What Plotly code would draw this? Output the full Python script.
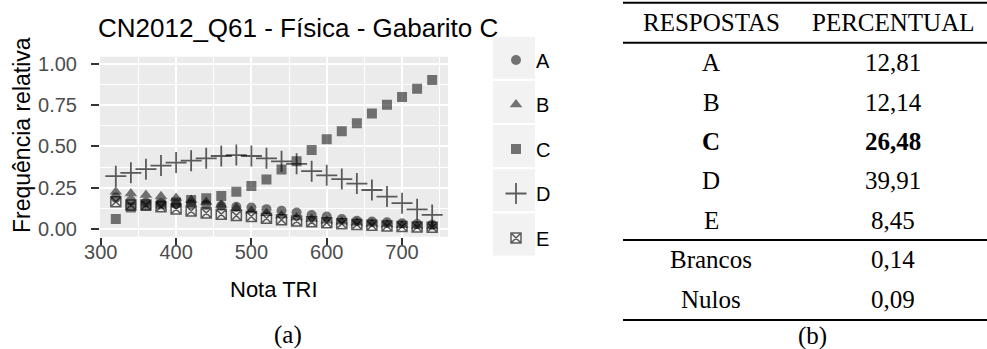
import plotly.graph_objects as go

# ---------------- data ----------------
nota = [320, 340, 360, 380, 400, 420, 440, 460, 480, 500, 520,
        540, 560, 580, 600, 620, 640, 660, 680, 700, 720, 740]
freq_A = [0.19, 0.17, 0.16, 0.155, 0.15, 0.15, 0.145, 0.14, 0.135, 0.13, 0.12,
          0.11, 0.10, 0.085, 0.075, 0.06, 0.05, 0.045, 0.04, 0.035, 0.03, 0.025]
freq_B = [0.225, 0.215, 0.206, 0.198, 0.188, 0.175, 0.164, 0.145, 0.128, 0.11, 0.095,
          0.082, 0.07, 0.06, 0.05, 0.043, 0.037, 0.032, 0.027, 0.022, 0.018, 0.015]
freq_C = [0.06, 0.13, 0.14, 0.15, 0.16, 0.175, 0.186, 0.20, 0.226, 0.26, 0.30,
          0.36, 0.41, 0.478, 0.543, 0.592, 0.64, 0.70, 0.753, 0.80, 0.85, 0.903]
freq_D = [0.32, 0.34, 0.362, 0.384, 0.402, 0.414, 0.428, 0.442, 0.448, 0.442, 0.428,
          0.41, 0.395, 0.35, 0.325, 0.302, 0.275, 0.236, 0.196, 0.156, 0.119, 0.085]
freq_E = [0.165, 0.145, 0.145, 0.135, 0.121, 0.109, 0.097, 0.089, 0.081, 0.075, 0.065,
          0.056, 0.048, 0.043, 0.037, 0.032, 0.027, 0.022, 0.018, 0.015, 0.012, 0.01]

x_ticks = [300, 400, 500, 600, 700]
y_ticks = [0.00, 0.25, 0.50, 0.75, 1.00]

respostas = ["A", "B", "C", "D", "E", "Brancos", "Nulos"]
percentual = ["12,81", "12,14", "26,48", "39,91", "8,45", "0,14", "0,09"]
gabarito = "C"

title_text = "CN2012_Q61 - Física - Gabarito C"

# ---------------- layout helpers (pixel -> paper, margins are zero) ----------------
W, H = 987, 349
PANEL_L, PANEL_R, PANEL_T, PANEL_B = 100, 448, 56.7, 236.7


def px(xp):
    return xp / W


def py(yp):
    return 1 - yp / H


SANS = "Liberation Sans, Arial, sans-serif"
SERIF = "Liberation Serif, Times New Roman, serif"
MCOL = "rgba(0,0,0,0.53)"
LCOL = "rgba(0,0,0,0.62)"

fig = go.Figure()

series = [
    ("A", freq_A, dict(symbol="circle", size=10, color=MCOL, line=dict(width=0))),
    ("B", freq_B, dict(symbol="triangle-up", size=11, color=MCOL, line=dict(width=0))),
    ("C", freq_C, dict(symbol="square", size=10, color=MCOL, line=dict(width=0))),
    ("D", freq_D, dict(symbol="cross-thin-open", size=15, color=LCOL,
                       line=dict(width=1.8, color=LCOL))),
    ("E", freq_E, dict(symbol="square-x-open", size=10, color=LCOL,
                       line=dict(width=1.5, color=LCOL))),
]
for name, vals, mk in series:
    fig.add_trace(go.Scatter(x=nota, y=vals, mode="markers", name=name,
                             legendgroup=name, marker=mk))

# ---------------- legend key backgrounds ----------------
key_top, key_step, key_size = 36.7, 44.2, 42
shapes = []
for i in range(len(series)):
    y0 = key_top + i * key_step
    shapes.append(dict(type="rect", xref="paper", yref="paper",
                       x0=px(493), x1=px(535), y0=py(y0), y1=py(y0 + key_size),
                       fillcolor="#F2F2F2", line=dict(width=0), layer="below"))

# ---------------- table ----------------
annotations = []
col1, col2 = 711, 893
header_y = 22.7
row0_y, row_step = 62.7, 39.4
tbl_x0, tbl_x1 = 623, 987
fs_tbl = 25


def cell(x, y, text, family=SERIF, size=fs_tbl, **kw):
    d = dict(x=px(x), y=py(y), xref="paper", yref="paper", text=text,
             showarrow=False, xanchor="center", yanchor="middle",
             font=dict(family=family, size=size, color="black"))
    d.update(kw)
    return d


annotations.append(cell(col1, header_y, "RESPOSTAS"))
annotations.append(cell(col2, header_y, "PERCENTUAL"))
for i, (r, p) in enumerate(zip(respostas, percentual)):
    yy = row0_y + i * row_step
    bold = r == gabarito
    annotations.append(cell(col1, yy, f"<b>{r}</b>" if bold else r))
    annotations.append(cell(col2, yy, f"<b>{p}</b>" if bold else p))

rule_ys = [header_y - 20, (header_y + row0_y) / 2,
           row0_y + 4.5 * row_step, row0_y + 6 * row_step + 21]
for ry in rule_ys:
    shapes.append(dict(type="line", xref="paper", yref="paper",
                       x0=px(tbl_x0), x1=px(tbl_x1), y0=py(ry), y1=py(ry),
                       line=dict(color="black", width=2)))

# captions
annotations.append(cell(288, 335, "(a)", size=25))
annotations.append(cell(812, 336, "(b)", size=25))

# title and axis titles
annotations.append(cell(96, 28, title_text, family=SANS, size=26, xanchor="left"))
annotations.append(cell(274, 289, "Nota TRI", family=SANS, size=22))
annotations.append(cell(22, 135, "Frequência relativa", family=SANS, size=23,
                        textangle=-90))

fig.update_layout(
    width=W, height=H, autosize=False,
    margin=dict(l=0, r=0, t=0, b=0, pad=0, autoexpand=False),
    paper_bgcolor="white",
    plot_bgcolor="#EBEBEB",
    showlegend=True,
    legend=dict(x=px(496), y=py(40.5), xanchor="left", yanchor="top",
                font=dict(family=SANS, size=20, color="black"),
                tracegroupgap=15.5, bgcolor="rgba(0,0,0,0)", itemsizing="trace"),
    shapes=shapes,
    annotations=annotations,
    xaxis=dict(domain=[px(PANEL_L), px(PANEL_R)], automargin=False,
               range=[299, 761], tickvals=x_ticks, ticks="outside", ticklen=7,
               tickwidth=2, tickcolor="#333333", showline=False, zeroline=False,
               ticklabelstandoff=-10,
               showgrid=True, gridcolor="white", gridwidth=2,
               minor=dict(dtick=50, tick0=0, showgrid=True, gridcolor="white",
                          gridwidth=1, ticks=""),
               tickfont=dict(family=SANS, size=20, color="#4D4D4D")),
    yaxis=dict(domain=[py(PANEL_B), py(PANEL_T)], automargin=False,
               range=[-0.047, 1.044], tickvals=y_ticks, tickformat=".2f",
               ticks="outside", ticklen=8, tickwidth=2, tickcolor="#333333",
               showline=False, zeroline=False, ticklabelstandoff=10,
               showgrid=True, gridcolor="white", gridwidth=2,
               minor=dict(dtick=0.125, tick0=0, showgrid=True, gridcolor="white",
                          gridwidth=1, ticks=""),
               tickfont=dict(family=SANS, size=20, color="#4D4D4D")),
)

fig.write_html("out.html", config={"displayModeBar": False, "responsive": False},
               post_script="document.body.style.margin='0';")
